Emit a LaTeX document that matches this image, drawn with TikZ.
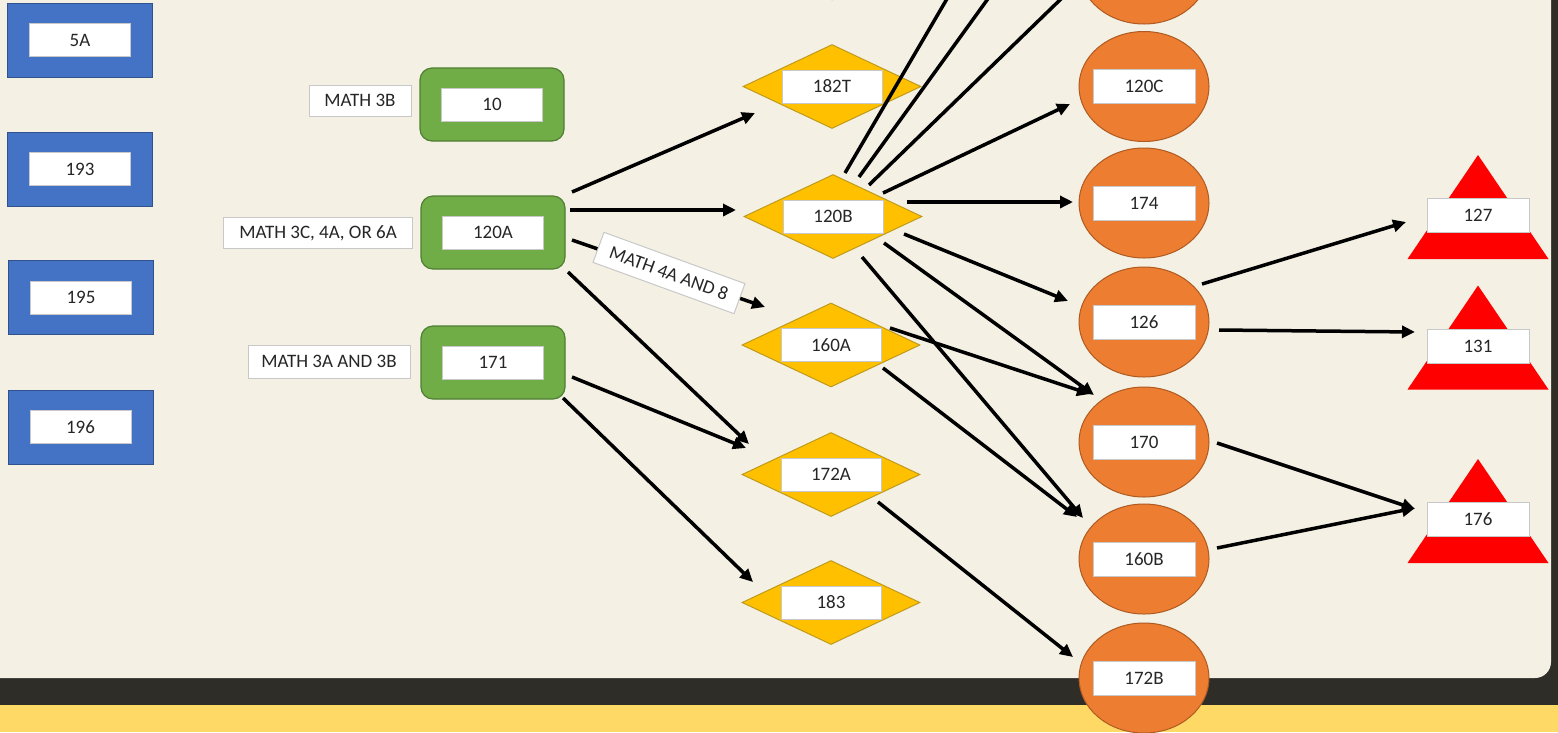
\documentclass[tikz,border=0pt]{standalone}
\usepackage{fontspec}
\setmainfont{Carlito}
\usetikzlibrary{shapes.geometric,arrows.meta,calc}
\definecolor{creamC}{HTML}{F4F1E4}
\definecolor{darkC}{HTML}{2E2D28}
\definecolor{yellowC}{HTML}{FFD966}
\definecolor{blueF}{HTML}{4472C4}
\definecolor{blueD}{HTML}{2F528F}
\definecolor{greenF}{HTML}{70AD47}
\definecolor{greenD}{HTML}{507E32}
\definecolor{goldF}{HTML}{FFC000}
\definecolor{goldD}{HTML}{BF9A1A}
\definecolor{orangeF}{HTML}{ED7D31}
\definecolor{orangeD}{HTML}{AE5A21}
\definecolor{redF}{HTML}{FF0000}
\definecolor{greyB}{HTML}{C8C8C8}
\definecolor{textC}{HTML}{262626}
\begin{document}
\begin{tikzpicture}[x=1pt,y=-1pt,
  bluebox/.style={rectangle, fill=blueF, draw=blueD, line width=1pt, minimum width=145pt, minimum height=74pt, inner sep=0pt},
  greenbox/.style={rectangle, rounded corners=12pt, fill=greenF, draw=greenD, line width=1.2pt, minimum width=144pt, minimum height=73pt, inner sep=0pt},
  dia/.style={diamond, fill=goldF, draw=goldD, line width=1pt, minimum width=178pt, minimum height=84pt, inner sep=0pt},
  oval/.style={ellipse, fill=orangeF, draw=orangeD, line width=1pt, minimum width=130pt, minimum height=110pt, inner sep=0pt},
  tag/.style={rectangle, fill=white, draw=greyB, line width=1pt, minimum width=101pt, minimum height=33pt, inner sep=0pt, font=\fontsize{19}{21}\selectfont, text=textC},
  mathlabel/.style={rectangle, fill=white, draw=greyB, line width=1pt, minimum height=32pt, inner sep=0pt, font=\fontsize{19}{21}\selectfont, text=textC},
  arr/.style={line width=3.5pt, -{Triangle[length=13pt,width=12pt]}},
  plainline/.style={line width=3.5pt}
]
\useasboundingbox (0,0) rectangle (1558,732);
\clip (0,0) rectangle (1558,732);
% background
\fill[darkC] (0,0) rectangle (1558,732);
\fill[yellowC] (0,705) rectangle (1558,732);
\fill[creamC, rounded corners=16pt] (-40,-40) -- (1551,-40) -- (1551,678) -- (-40,678) -- cycle;

% blue boxes
\node[bluebox] (b5A) at (80,40) {};
\node[tag] (l5A) at (b5A) {5A};
\node[bluebox] (b193) at (80,169) {};
\node[tag] (l193) at (b193) {193};
\node[bluebox] (b195) at (81,297.5) {};
\node[tag] (l195) at (b195) {195};
\node[bluebox] (b196) at (80.5,427) {};
\node[tag] (l196) at (b196) {196};

% green boxes and their prerequisites
\node[greenbox] (g10) at (492,104.5) {};
\node[tag] (l10) at (g10) {10};
\node[greenbox] (g120A) at (493,232.5) {};
\node[tag] (l120A) at (g120A) {120A};
\node[greenbox] (g171) at (493,362.5) {};
\node[tag] (l171) at (g171) {171};
\node[mathlabel, minimum width=102pt, minimum height=31pt] (m3B) at (360,100.5) {MATH 3B};
\node[mathlabel, minimum width=189pt, minimum height=31pt] (m3C) at (318,233) {MATH 3C, 4A, OR 6A};
\node[mathlabel, minimum width=162pt, minimum height=33pt] (m3A) at (329,361.5) {MATH 3A AND 3B};

% diamonds
\node[dia] (dTop) at (832,-42) {};
\node[dia] (d182T) at (832,86.5) {};
\node[tag, minimum width=100pt] (l182T) at (d182T) {182T};
\node[dia] (d120B) at (833,216.5) {};
\node[tag, minimum width=100pt] (l120B) at (d120B) {120B};
\node[dia] (d160A) at (831,345) {};
\node[tag, minimum width=100pt] (l160A) at (d160A) {160A};
\node[dia] (d172A) at (831,474.5) {};
\node[tag, minimum width=100pt] (l172A) at (d172A) {172A};
\node[dia] (d183) at (831,602.5) {};
\node[tag, minimum width=100pt] (l183) at (d183) {183};

% circles
\node[oval] (cTop) at (1144,-31) {};
\node[oval] (c120C) at (1144,86.5) {};
\node[tag, minimum width=102pt, minimum height=34pt] (l120C) at (c120C) {120C};
\node[oval] (c174) at (1144,203) {};
\node[tag, minimum width=102pt, minimum height=34pt] (l174) at (c174) {174};
\node[oval] (c126) at (1144,322) {};
\node[tag, minimum width=102pt, minimum height=34pt] (l126) at (c126) {126};
\node[oval] (c170) at (1144,442) {};
\node[tag, minimum width=102pt, minimum height=34pt] (l170) at (c170) {170};
\node[oval] (c160B) at (1144,559) {};
\node[tag, minimum width=102pt, minimum height=34pt] (l160B) at (c160B) {160B};
\node[oval] (c172B) at (1144,678) {};
\node[tag, minimum width=102pt, minimum height=34pt] (l172B) at (c172B) {172B};

% triangles
\coordinate (t127) at (1478,215.5);
\coordinate (t131) at (1478,346);
\coordinate (t176) at (1478,519.5);
\foreach \t in {t127,t131,t176}{
  \fill[redF] ($(\t)+(0,-60.5)$) -- ($(\t)+(70.5,43.5)$) -- ($(\t)+(-70.5,43.5)$) -- cycle;
}
\node[tag, minimum width=102pt, minimum height=34pt] (l127) at (t127) {127};
\node[tag, minimum width=102pt, minimum height=34pt] (l131) at (t131) {131};
\node[tag, minimum width=102pt, minimum height=34pt] (l176) at (t176) {176};

% free ends above the frame
\coordinate (up1) at (958,-20);
\coordinate (up2) at (1001.5,-20);
\coordinate (up3) at (1080.5,-20);

% connectors
\draw[arr] ($(g120A)+(79,-40.5)$) -- ($(d182T)+(-77,26.5)$);
\draw[arr] ($(g120A)+(77,-22.5)$) -- ($(d120B)+(-97,-6.5)$);
\draw[arr] ($(g120A)+(79,7.5)$) -- ($(d160A)+(-66,-38)$);
\draw[arr] ($(g120A)+(75,39.5)$) -- ($(d172A)+(-82,-30.5)$);
\draw[arr] ($(g171)+(79,14.5)$) -- ($(d172A)+(-85,-26.5)$);
\draw[arr] ($(g171)+(70,35.5)$) -- ($(d183)+(-78,-20.5)$);

\draw[plainline] ($(d120B)+(12,-43.5)$) -- (up1);
\draw[plainline] ($(d120B)+(26,-39.5)$) -- (up2);
\draw[plainline] ($(d120B)+(36,-31.5)$) -- (up3);

\draw[arr] ($(d120B)+(50,-23.5)$) -- ($(c120C)+(-74,17.5)$);
\draw[arr] ($(d120B)+(74,-14.5)$) -- ($(c174)+(-71,-1)$);
\draw[arr] ($(d120B)+(71,17.5)$) -- ($(c126)+(-76,-21)$);
\draw[arr] ($(d120B)+(51,26.5)$) -- ($(c170)+(-50,-47)$);
\draw[arr] ($(d120B)+(29,40.5)$) -- ($(c160B)+(-61,-41)$);
\draw[arr] ($(d160A)+(59,-17)$) -- ($(c170)+(-54,-48)$);
\draw[arr] ($(d160A)+(52,23)$) -- ($(c160B)+(-67,-42)$);
\draw[arr] ($(d172A)+(47,27.5)$) -- ($(c172B)+(-71,-21)$);

\draw[arr] ($(c126)+(58,-38)$) -- ($(l127)+(-72,6.5)$);
\draw[arr] ($(c126)+(75,8)$) -- ($(l131)+(-63,-14)$);
\draw[arr] ($(c170)+(73,1)$) -- ($(l176)+(-63,-10.5)$);
\draw[arr] ($(c160B)+(73,-11)$) -- ($(l176)+(-63,-11.5)$);

% rotated prerequisite label on the 120A -> 160A connector
\node[mathlabel, minimum width=150pt, minimum height=32pt, rotate=-20] (m4A) at (669,273) {MATH 4A AND 8};
\end{tikzpicture}
\end{document}
